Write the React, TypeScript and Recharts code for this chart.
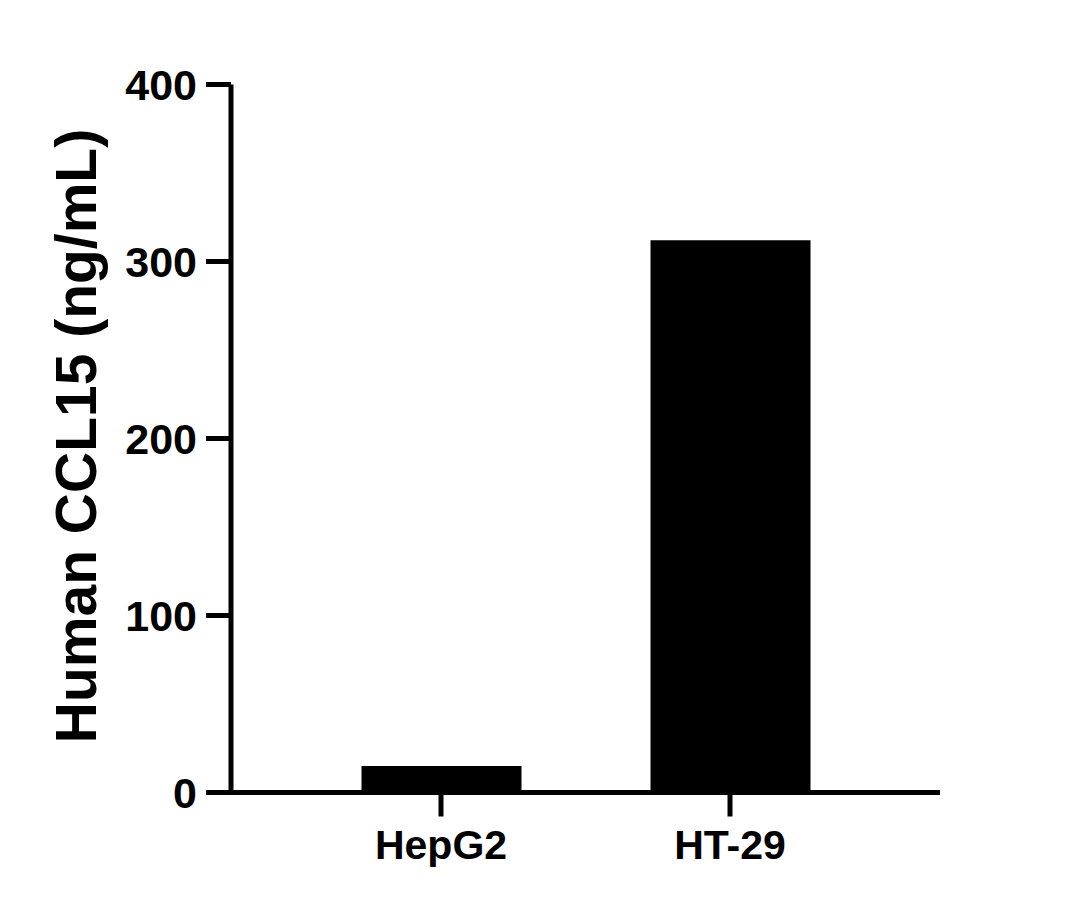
import { BarChart, Bar, XAxis, YAxis } from 'recharts'

// CCL15 secretion by cell line
const cellLines = ['HepG2', 'HT-29']
const ccl15Values = [15, 312]
const yTicks = [0, 100, 200, 300, 400]

const data = cellLines.map((name, i) => ({ name, value: ccl15Values[i] }))

const FONT = '"Liberation Sans", Arial, Helvetica, sans-serif'

export default function App() {
  return (
    <div style={{ position: 'absolute', left: 0, top: 0, width: 1078, height: 909, background: '#ffffff' }}>
      <BarChart
        width={1078}
        height={909}
        data={data}
        margin={{ top: 84.5, right: 138, bottom: 36.5, left: 131 }}
      >
        <XAxis
          dataKey="name"
          height={80}
          padding={{ left: 65.5, right: 65.5 }}
          axisLine={{ stroke: '#000', strokeWidth: 5 }}
          tickLine={{ stroke: '#000', strokeWidth: 5 }}
          tickSize={24}
          tickMargin={13}
          tick={{ fill: '#000', fontSize: 41, fontWeight: 700, fontFamily: FONT }}
        />
        <YAxis
          width={100}
          domain={[0, 400]}
          ticks={yTicks}
          interval={0}
          axisLine={{ stroke: '#000', strokeWidth: 5 }}
          tickLine={{ stroke: '#000', strokeWidth: 5 }}
          tickSize={25}
          tickMargin={9}
          tick={{ fill: '#000', fontSize: 43, fontWeight: 700, fontFamily: FONT }}
          label={{
            content: () => (
              <text
                transform="translate(96,436) rotate(-90)"
                textAnchor="middle"
                fill="#000"
                fontSize={57}
                fontWeight={700}
                fontFamily={FONT}
              >
                Human CCL15 (ng/mL)
              </text>
            ),
          }}
        />
        <Bar dataKey="value" fill="#000" barSize={160} isAnimationActive={false} />
      </BarChart>
    </div>
  )
}
